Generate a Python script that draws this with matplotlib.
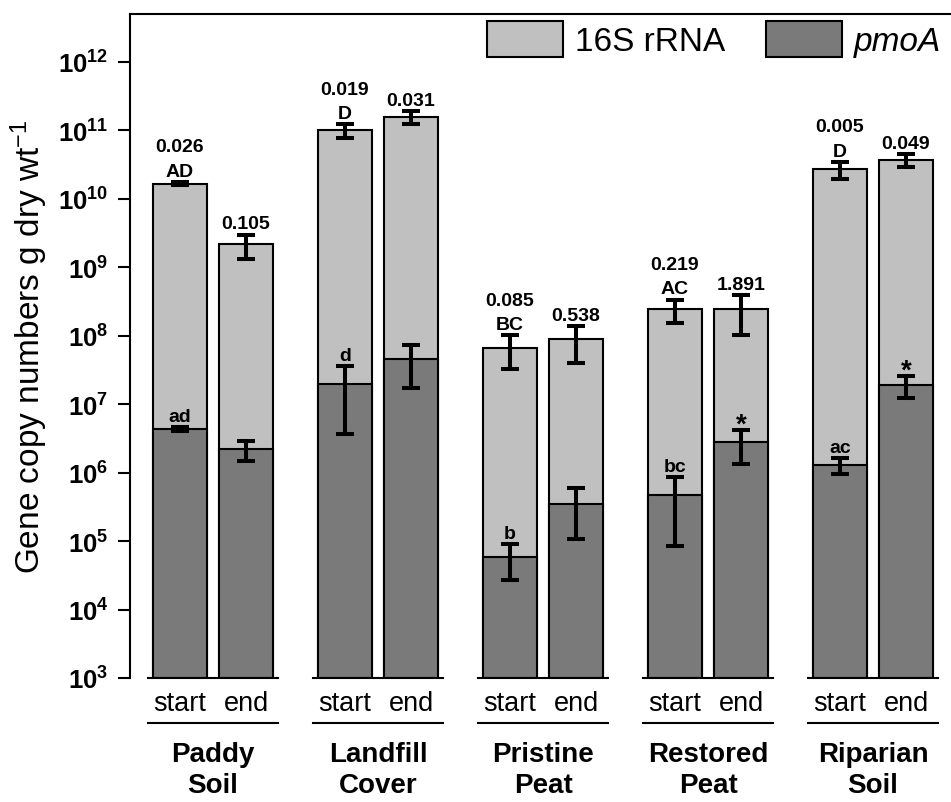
import numpy as np
import matplotlib
matplotlib.use("Agg")
import matplotlib.pyplot as plt
import matplotlib.transforms as mtransforms
from matplotlib.patches import Patch

plt.rcParams["font.family"] = ["Liberation Sans", "DejaVu Sans"]
plt.rcParams["mathtext.fontset"] = "custom"
plt.rcParams["mathtext.rm"] = "Liberation Sans"
plt.rcParams["mathtext.bf"] = "Liberation Sans:bold"
plt.rcParams["mathtext.it"] = "Liberation Sans:italic"

# sitios y tiempos de muestreo
sitios = ["Paddy\nSoil", "Landfill\nCover", "Pristine\nPeat", "Restored\nPeat", "Riparian\nSoil"]
tiempos = ["start", "end"]

# copias de 16S rRNA (media y desviacion)
r16s_start = [1.67e10, 1.0e11, 6.7e7, 2.44e8, 2.7e10]
r16s_start_sd = [0.1e10, 0.22e11, 3.4e7, 0.93e8, 0.76e10]
r16s_end = [2.17e9, 1.59e11, 8.9e7, 2.49e8, 3.69e10]
r16s_end_sd = [0.83e9, 0.34e11, 4.9e7, 1.45e8, 0.8e10]

# copias de pmoA (media y desviacion)
pmoa_start = [4.32e6, 2.0e7, 5.9e4, 4.74e5, 1.29e6]
pmoa_start_sd = [0.3e6, 1.63e7, 3.2e4, 3.9e5, 0.35e6]
pmoa_end = [2.2e6, 4.54e7, 3.47e5, 2.79e6, 1.89e7]
pmoa_end_sd = [0.72e6, 2.8e7, 2.4e5, 1.44e6, 0.67e7]

# porcentaje pmoA / 16S y letras de significancia
pct_start = ["0.026", "0.019", "0.085", "0.219", "0.005"]
pct_end = ["0.105", "0.031", "0.538", "1.891", "0.049"]
letras_16s = ["AD", "D", "BC", "AC", "D"]
letras_pmoa = ["ad", "d", "b", "bc", "ac"]
marca_end = ["", "", "", "*", "*"]

base = 1e3
gris_claro = "#c0c0c0"
gris_oscuro = "#7a7a7a"

centros = np.arange(len(sitios)) * 2.5
x_start = centros - 0.5
x_end = centros + 0.5
ancho = 0.82

fig = plt.figure(figsize=(9.51, 8.03), dpi=100)
ax = fig.add_axes([130 / 951, 1 - 679 / 803, 821 / 951, 664 / 803])

for xs, vals in [(x_start, r16s_start), (x_end, r16s_end)]:
    ax.bar(xs, np.array(vals) - base, bottom=base, width=ancho, color=gris_claro,
           edgecolor="black", linewidth=1.5, zorder=1)
for xs, vals in [(x_start, pmoa_start), (x_end, pmoa_end)]:
    ax.bar(xs, np.array(vals) - base, bottom=base, width=ancho, color=gris_oscuro,
           edgecolor="black", linewidth=1.5, zorder=2)

for xs, vals, sd in [(x_start, r16s_start, r16s_start_sd), (x_end, r16s_end, r16s_end_sd),
                     (x_start, pmoa_start, pmoa_start_sd), (x_end, pmoa_end, pmoa_end_sd)]:
    ax.errorbar(xs, vals, yerr=sd, fmt="none", ecolor="black", elinewidth=2.9,
                capsize=6.3, capthick=2.9, zorder=3)

ax.set_yscale("log")
ax.set_ylim(1e3, 5e12)
ax.set_xlim(-1.258, -1.258 + 821 / 66)

# textos sobre las barras
kw = dict(textcoords="offset points", ha="center", va="baseline",
          fontsize=14, fontweight="bold", annotation_clip=False)
for i in range(len(sitios)):
    top_s = r16s_start[i] + r16s_start_sd[i]
    top_e = r16s_end[i] + r16s_end_sd[i]
    ax.annotate(letras_16s[i], (x_start[i], top_s), xytext=(0, 4.5), **kw)
    ax.annotate(pct_start[i], (x_start[i], top_s), xytext=(0, 22), **kw)
    ax.annotate(pct_end[i], (x_end[i], top_e), xytext=(0, 4.5), **kw)
    ax.annotate(letras_pmoa[i], (x_start[i], pmoa_start[i] + pmoa_start_sd[i]), xytext=(0, 4.5), **kw)
    if marca_end[i]:
        kw_ast = dict(kw, fontsize=20)
        ax.annotate(marca_end[i], (x_end[i], pmoa_end[i] + pmoa_end_sd[i]), xytext=(0, -1), **kw_ast)

# ejes
for lado in ["right", "bottom"]:
    ax.spines[lado].set_visible(False)
for lado in ["left", "top"]:
    ax.spines[lado].set_linewidth(1.5)
ax.set_xticks([])
ax.minorticks_off()
exps = np.arange(3, 13)
ax.set_yticks(10.0 ** exps)
ax.set_yticklabels([r"$\mathbf{10^{%d}}$" % e for e in exps], fontsize=18.5)
ax.tick_params(axis="y", direction="out", length=8.6, width=1.5, pad=7)
ax.set_ylabel("Gene copy numbers g dry wt$^{-1}$", fontsize=24)
ax.yaxis.set_label_coords(-0.097, 0.5)

# lineas base, etiquetas start/end y nombres de sitio
trans = mtransforms.blended_transform_factory(ax.transData, ax.transAxes)
for i, c in enumerate(centros):
    ax.plot([c - 0.99, c + 0.99], [0, 0], color="black", lw=1.5, transform=trans, clip_on=False)
    ax.plot([c - 0.99, c + 0.99], [-0.0678, -0.0678], color="black", lw=1.5, transform=trans, clip_on=False)
    ax.text(x_start[i], -0.038, tiempos[0], transform=trans, ha="center", va="center", fontsize=19.5)
    ax.text(x_end[i], -0.038, tiempos[1], transform=trans, ha="center", va="center", fontsize=19.5)
    ax.text(c, -0.1378, sitios[i], transform=trans, ha="center", va="center",
            fontsize=20, fontweight="bold", linespacing=1.25)

handles = [Patch(facecolor=gris_claro, edgecolor="black", linewidth=1.5),
           Patch(facecolor=gris_oscuro, edgecolor="black", linewidth=1.5)]
leg = ax.legend(handles, ["16S rRNA", "pmoA"], ncol=2, frameon=False, fontsize=24,
                loc="upper left", bbox_to_anchor=(486.7 / 951, 1 - 22 / 803),
                bbox_transform=fig.transFigure, borderpad=0, borderaxespad=0,
                handlelength=2.3, handleheight=1.3, handletextpad=0.36, columnspacing=1.2)
leg.get_texts()[1].set_fontstyle("italic")

fig.savefig("out.png", dpi=100)
